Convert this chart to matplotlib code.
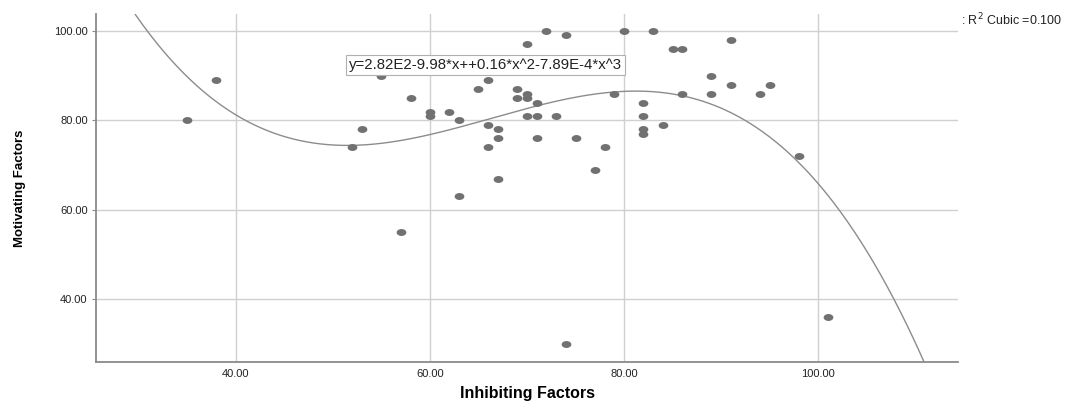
"""
Scatter of motivating vs inhibiting factors with a cubic fit line (SPSS style).
"""

import matplotlib
matplotlib.use("Agg")
import matplotlib.pyplot as plt
import numpy as np
from matplotlib.path import Path
from matplotlib.transforms import Affine2D
from matplotlib.ticker import FormatStrFormatter

plt.rcParams["font.family"] = ["Liberation Sans", "DejaVu Sans"]

# Points (inhibiting, motivating).
inhibiting = [35, 38, 52, 53, 55, 56, 57, 58, 60, 60, 62, 63, 63, 65, 66, 66, 66,
              67, 67, 67, 69, 69, 70, 70, 70, 70, 71, 71, 71, 72, 73, 74, 74, 75,
              77, 77, 78, 79, 80, 82, 82, 82, 82, 83, 84, 85, 86, 86, 89, 89, 91,
              91, 94, 95, 98, 101]
motivating = [80, 89, 74, 78, 90, 91, 55, 85, 82, 81, 82, 80, 63, 87, 89, 79, 74,
              78, 76, 67, 87, 85, 86, 85, 97, 81, 84, 81, 76, 100, 81, 99, 30, 76,
              91, 69, 74, 86, 100, 84, 81, 78, 77, 100, 79, 96, 96, 86, 90, 86, 98,
              88, 86, 88, 72, 36]

x_ticks = [40, 60, 80, 100]
y_ticks = [40, 60, 80, 100]

equation = "y=2.82E2-9.98*x++0.16*x^2-7.89E-4*x^3"
r2_label = ": R$^2$ Cubic =0.100"

POINT = "#717171"
LINE = "#8c8c8c"
GRID = "#d0d0d0"
AXIS = "#8a8a8a"

fig = plt.figure(figsize=(10.66, 4.01), dpi=100)
ax = fig.add_axes([96 / 1066, 1 - 362 / 401, (958 - 96) / 1066, (362 - 14) / 401])

x = np.array(inhibiting, dtype=float)
y = np.array(motivating, dtype=float)

# cubic fit, like the SPSS fit line
coef = np.polyfit(x, y, 3)
xs = np.linspace(25, 115, 400)
ax.plot(xs, np.polyval(coef, xs), color=LINE, linewidth=1.0, zorder=3)

dot = Path.unit_circle().transformed(Affine2D().scale(1.4, 1.0))
ax.plot(x, y, linestyle="none", marker=dot, markersize=7, color=POINT,
        markeredgewidth=0, zorder=4)

ax.set_xlim(25.6, 114.4)
ax.set_ylim(26, 103.8)
ax.set_xticks(x_ticks)
ax.set_yticks(y_ticks)
ax.xaxis.set_major_formatter(FormatStrFormatter("%.2f"))
ax.yaxis.set_major_formatter(FormatStrFormatter("%.2f"))
ax.grid(True, color=GRID, linewidth=1.0)
ax.set_axisbelow(True)
for side in ("top", "right"):
    ax.spines[side].set_visible(False)
for side in ("left", "bottom"):
    ax.spines[side].set_color(AXIS)
    ax.spines[side].set_linewidth(1.3)
ax.tick_params(axis="x", length=0, pad=5, labelsize=8, labelcolor="#222222")
ax.tick_params(axis="y", length=3, width=0.8, color=AXIS, pad=3, labelsize=8,
               labelcolor="#222222")

ax.set_xlabel("Inhibiting Factors", fontsize=11.5, fontweight="bold", labelpad=5)
ax.set_ylabel("Motivating Factors", fontsize=9.5, fontweight="bold", labelpad=20,
              family=["Liberation Sans Narrow", "Liberation Sans", "DejaVu Sans"])

ax.text(65.7, 92.3, equation, ha="center", va="center", fontsize=10.8, color="#222222",
        bbox=dict(boxstyle="square,pad=0.2", facecolor="white", edgecolor="#b0b0b0",
                  linewidth=0.8), zorder=5)

fig.text(961 / 1066, 1 - 20 / 401, r2_label, ha="left", va="center", fontsize=9,
         color="#222222")

fig.savefig("out.png", dpi=100, facecolor="white")
